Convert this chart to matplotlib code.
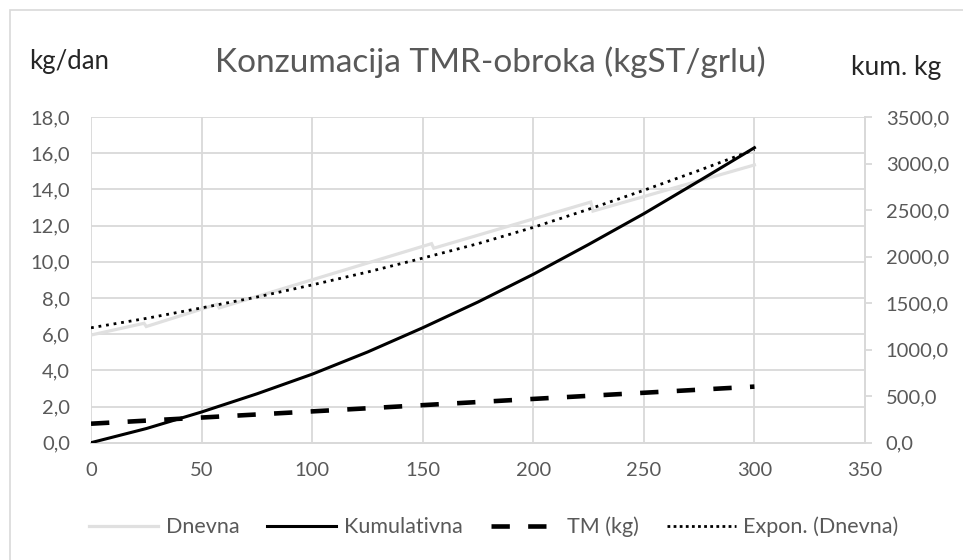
import matplotlib
matplotlib.use("Agg")
import matplotlib.pyplot as plt
from matplotlib.lines import Line2D
from matplotlib.patches import Rectangle
from matplotlib.ticker import FuncFormatter

plt.rcParams['font.family'] = ['Lato', 'DejaVu Sans']

# ---- data ----
dnevna_days = [0, 24, 25, 57, 58, 154, 155, 226, 227, 300]
dnevna_vals = [5.95, 6.6, 6.42, 7.65, 7.45, 11.0, 10.75, 13.3, 12.8, 15.35]

kum_days = [0, 25, 50, 75, 100, 125, 150, 175, 200, 225, 250, 275, 300]
kum_vals = [0, 152, 330, 525, 736, 974, 1235, 1512, 1810, 2130, 2461, 2813, 3170]

tm_days = [0, 100, 200, 300]
tm_vals = [1.05, 1.73, 2.42, 3.1]

trend_days = [0, 25, 50, 75, 100, 125, 150, 175, 200, 225, 250, 275, 300]
trend_vals = [6.35, 6.87, 7.45, 8.05, 8.72, 9.43, 10.2, 11.0, 11.9, 12.9, 13.95, 15.05, 16.2]

x_ticks = [0, 50, 100, 150, 200, 250, 300, 350]
left_ticks = [0, 2, 4, 6, 8, 10, 12, 14, 16, 18]
right_ticks = [0, 500, 1000, 1500, 2000, 2500, 3000, 3500]

title = "Konzumacija TMR-obroka (kgST/grlu)"
left_label = "kg/dan"
right_label = "kum. kg"
legend_labels = ["Dnevna", "Kumulativna", "TM (kg)", "Expon. (Dnevna)"]

# ---- styles ----
GRID = '#d9d9d9'
TXT = '#595959'
C_DN = '#e0e0e0'
TICK_FS = 14.5

fig = plt.figure(figsize=(9.63, 5.6), dpi=100)
fig.patch.set_facecolor('white')

# outer chart border (partially cropped in reference)
fig.add_artist(Rectangle((10/963, -0.05), 1.2, 1 - 10/560 + 0.05,
                         transform=fig.transFigure, fill=False,
                         edgecolor='#d9d9d9', linewidth=1.2))

ax = fig.add_axes([91/963, 1 - 442.7/560, (865 - 91)/963, (442.7 - 117)/560])
ax2 = ax.twinx()

fmt1 = FuncFormatter(lambda v, p: f"{v:.1f}".replace('.', ','))

ax.set_xlim(0, 350)
ax.set_ylim(0, 18)
ax2.set_ylim(0, 3500)
ax.set_xticks(x_ticks)
ax.set_yticks(left_ticks)
ax2.set_yticks(right_ticks)
ax.yaxis.set_major_formatter(fmt1)
ax2.yaxis.set_major_formatter(fmt1)

ax.grid(True, color=GRID, linewidth=1.3)
ax.set_axisbelow(True)
for a in (ax, ax2):
    a.spines['top'].set_visible(False)
    a.spines['left'].set_visible(False)
    a.spines['bottom'].set_color(GRID)
    a.spines['bottom'].set_linewidth(1.3)
    a.spines['right'].set_color(GRID)
    a.spines['right'].set_linewidth(1.3)

ax.tick_params(axis='x', length=0, labelsize=TICK_FS, labelcolor=TXT, pad=14)
ax.tick_params(axis='y', length=0, labelsize=TICK_FS, labelcolor=TXT, pad=15)
ax2.tick_params(axis='y', length=5, color=GRID, width=1.3, labelsize=TICK_FS,
                labelcolor=TXT, pad=10)

# lines
ax.plot(dnevna_days, dnevna_vals, color=C_DN, linewidth=2.3, zorder=2,
        solid_joinstyle='miter')
ax.plot(tm_days, tm_vals, color='black', linewidth=3.3, linestyle=(0, (4, 4)),
        dash_capstyle='butt', zorder=3)
ax.plot(trend_days, trend_vals, color='black', linewidth=2.0,
        linestyle=(0, (1, 1.75)), dash_capstyle='butt', zorder=4)
ax2.plot(kum_days, kum_vals, color='black', linewidth=2.2, zorder=3)

# texts
fig.text(490/963, 1 - 62/560, title, ha='center', va='center',
         fontsize=24, color=TXT)
fig.text(29/963, 1 - 62/560, left_label, ha='left', va='center',
         fontsize=18.5, color='#262626')
fig.text(851/963, 1 - 67/560, right_label, ha='left', va='center',
         fontsize=19, color='#262626')

handles = [
    Line2D([], [], color=C_DN, linewidth=2.3),
    Line2D([], [], color='black', linewidth=2.2),
    Line2D([], [], color='black', linewidth=3.3, linestyle=(0, (4, 4)),
           dash_capstyle='butt'),
    Line2D([], [], color='black', linewidth=2.0, linestyle=(0, (1, 1.2)),
           dash_capstyle='butt'),
]
leg = fig.legend(handles, legend_labels, loc='center', ncol=4,
                 bbox_to_anchor=(494/963, 1 - 527/560), frameon=False,
                 fontsize=15.5, handlelength=3.2, handletextpad=0.35,
                 columnspacing=1.3)
for t in leg.get_texts():
    t.set_color(TXT)

fig.savefig('out.png', dpi=100, facecolor='white')
